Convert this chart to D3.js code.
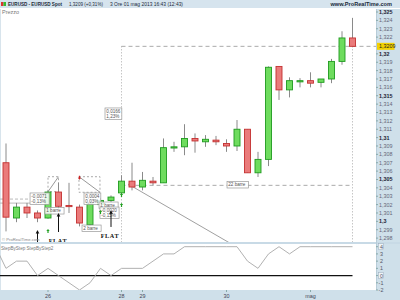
<!DOCTYPE html>
<html><head><meta charset="utf-8">
<script src="https://cdn.jsdelivr.net/npm/d3@7"></script>
<style>html,body{margin:0;padding:0;background:#fff;overflow:hidden}svg{display:block;font-family:"Liberation Sans",Arial,sans-serif}</style>
</head><body><svg id="c" width="400" height="300"></svg>
<script>
// ---- data ----
const opens  = [1.3070,1.3004,1.3017,1.3010,1.3004,1.3035,1.3019,1.3017,1.2996,1.3020,1.3025,1.3034,1.3048,1.3041,1.3048,1.3046,1.3088,1.3089,1.3099,1.3095,1.3097,1.3093,1.3090,1.3110,1.3058,1.3074,1.3185,1.3157,1.3167,1.3168,1.3166,1.3170,1.3191,1.3219];
const highs  = [1.3093,1.3022,1.3022,1.3013,1.3037,1.3046,1.3046,1.3020,1.3025,1.3028,1.3031,1.3055,1.3070,1.3059,1.3053,1.3099,1.3095,1.3116,1.3105,1.3103,1.3102,1.3098,1.3121,1.3110,1.3083,1.3185,1.3185,1.3172,1.3171,1.3178,1.3170,1.3194,1.3227,1.3243];
const lows   = [1.2988,1.2999,1.3004,1.2999,1.3003,1.3013,1.3010,1.2994,1.2994,1.3017,1.3023,1.3030,1.3037,1.3037,1.3043,1.3046,1.3083,1.3079,1.3082,1.3089,1.3091,1.3083,1.3084,1.3058,1.3053,1.3066,1.3145,1.3148,1.3160,1.3160,1.3160,1.3165,1.3187,1.3209];
const closes = [1.3005,1.3017,1.3010,1.3004,1.3035,1.3018,1.3018,1.2998,1.3021,1.3025,1.3029,1.3048,1.3041,1.3049,1.3046,1.3088,1.3089,1.3099,1.3096,1.3098,1.3095,1.3090,1.3110,1.3058,1.3074,1.3184,1.3157,1.3168,1.3168,1.3165,1.3170,1.3191,1.3219,1.3209];
// StepByStep indicator, first value belongs to the bar before the first visible one
const stepIndex = d3.range(-1, 34);
const stepValues = [4,1,2,2,0,1,0,-1,-2,-1,1,0,1,1,1,2,3,3,4,4,4,4,4,4,2,1,3,4,3,4,4,4,4,4,4];
const dayLabels = ["26","28","29","30","mag"];
const dayIndex  = [4,11,13,21,29];
const priceTicks = d3.range(1298, 1326).filter(v => v !== 1321).map(v => v/1000);
const stepTicks = [-2,-1,0,1,2,3,4];
const lastPrice = 1.3209, measureStart = 1.3043, measureFrom = 11, measureTo = 33;
const titleParts = ["EURUSD - EURUSD Spot","1,3209 (+0,31%)","3 Ore  01 mag 2013 16:43 (12:43)"];
// annotation boxes: anchor bar index / price (top-left)
const boxIdx   = [2.29, 3.71, 7.43, 7.24, 8.86, 8.95, 9.43, 21.05];
const boxPrice = [1.30339,1.30165,1.30339,1.29956,1.30231,1.30171,1.31354,1.30476];
const boxText  = [["-0,0071","-0,13%"],["1 barre"],["0,0004","0,03%"],["2 barre"],["1 barre"],["-0,0020","-0,15%"],["0,0166","1,23%"],["22 barre"]];

// ---- layout ----
const svg = d3.select("#c");
const plotR = 376, mainT = 9, mainB = 242, indT = 244, indB = 290;
const x = d3.scaleLinear().domain([0,33]).range([6,352.5]);
const y = d3.scaleLinear().domain([1.298,1.325]).range([238.1,12]);
const yi = d3.scaleLinear().domain([-2,4]).range([290,246.7]);
const fmt = v => d3.format(".4~f")(v).replace(".", ",");

svg.append("rect").attr("width",400).attr("height",300).attr("fill","#fff");
svg.append("rect").attr("x",plotR).attr("y",0).attr("width",24).attr("height",300).attr("fill","#cfe0ea");
svg.append("rect").attr("x",0).attr("y",290).attr("width",400).attr("height",10).attr("fill","#cfe0ea");
svg.append("rect").attr("x",0).attr("y",0).attr("width",400).attr("height",8).attr("fill","#d6e4ee");
svg.append("line").attr("x1",0).attr("x2",400).attr("y1",8.5).attr("y2",8.5).attr("stroke","#fff");
svg.append("rect").attr("x",0).attr("y",242).attr("width",400).attr("height",2).attr("fill","#c8dae6");
svg.append("line").attr("x1",plotR+0.5).attr("x2",plotR+0.5).attr("y1",9).attr("y2",290).attr("stroke","#b8ccd8");
svg.append("line").attr("x1",0.5).attr("x2",0.5).attr("y1",9).attr("y2",290).attr("stroke","#d8e4ec");

// title
svg.append("rect").attr("x",1).attr("y",2).attr("width",2.5).attr("height",4).attr("fill","#d33");
svg.append("rect").attr("x",3.5).attr("y",2).attr("width",2.5).attr("height",4).attr("fill","#3b3");
const titleX = [8, 69, 110], titleW = [54, 34, 73];
titleParts.forEach((t,k) => svg.append("text").attr("x",titleX[k]).attr("y",6.2)
  .attr("font-size",5.4).attr("font-weight",k===0?"bold":"normal").attr("fill","#1a2a3a")
  .attr("textLength",titleW[k]).attr("lengthAdjust","spacingAndGlyphs").text(t));
svg.append("text").attr("x",392).attr("y",6.2).attr("text-anchor","end").attr("font-size",5.6)
  .attr("font-weight","bold").attr("fill","#1a2a3a").text("www.ProRealTime.com");
svg.append("text").attr("x",2).attr("y",13.5).attr("font-size",5.5).attr("fill","#777").text("Prezzo");

// clip main
const defs = svg.append("defs");
defs.append("clipPath").attr("id","cm").append("rect").attr("x",0).attr("y",mainT).attr("width",plotR).attr("height",mainB-mainT);
defs.append("clipPath").attr("id","ci").append("rect").attr("x",0).attr("y",indT).attr("width",plotR).attr("height",indB-indT);
const g = svg.append("g").attr("clip-path","url(#cm)");

// measurement lines
g.append("line").attr("x1",x(measureFrom)).attr("x2",plotR).attr("y1",y(lastPrice)).attr("y2",y(lastPrice))
  .attr("stroke","#aaa").attr("stroke-dasharray","4,3");
g.append("line").attr("x1",x(measureFrom)).attr("x2",x(measureTo)).attr("y1",y(measureStart)).attr("y2",y(measureStart))
  .attr("stroke","#aaa").attr("stroke-dasharray","4,3");
[measureFrom, measureTo].forEach(i => g.append("line").attr("x1",x(i)).attr("x2",x(i)).attr("y1",y(lastPrice)).attr("y2",mainB)
  .attr("stroke","#aaa").attr("stroke-dasharray","1,2"));
// earlier lines on left
g.append("line").attr("x1",0).attr("x2",x(2.29)).attr("y1",y(1.30266)).attr("y2",y(1.30266)).attr("stroke","#bbb").attr("stroke-dasharray","3,2");
g.append("line").attr("x1",0).attr("x2",x(2.29)).attr("y1",y(1.30218)).attr("y2",y(1.30218)).attr("stroke","#bbb");
// dashed triangles
const tri = [[4,5,1.30354,1.30533,true],[6.95,8.95,1.30347,1.30533,false]];
tri.forEach(([i0,i1,pLo,pHi,up]) => {
  g.append("rect").attr("x",x(i0)).attr("y",y(pHi)).attr("width",x(i1)-x(i0)).attr("height",y(pLo)-y(pHi))
    .attr("fill","none").attr("stroke","#aaa").attr("stroke-dasharray","2,2");
  g.append("line").attr("x1",x(i0)).attr("x2",x(i1)).attr("y1",up?y(pLo):y(pHi)).attr("y2",up?y(pHi):y(pLo)).attr("stroke","#999");
});
// trend line
g.append("line").attr("x1",x(11.62)).attr("y1",y(1.30446)).attr("x2",x(22)).attr("y2",y(1.30446-10.38*0.000727))
  .attr("stroke","#888").attr("stroke-width",0.8);

// candles
const bars = d3.range(opens.length).map(i => ({i,o:opens[i],h:highs[i],l:lows[i],c:closes[i]}));
g.selectAll(".wick").data(bars).join("line").attr("x1",d=>x(d.i)).attr("x2",d=>x(d.i))
  .attr("y1",d=>y(d.h)).attr("y2",d=>y(d.l)).attr("stroke","#8a8a8a");
g.selectAll(".body").data(bars).join("rect")
  .attr("x",d=>x(d.i)-3).attr("width",6)
  .attr("y",d=>y(Math.max(d.o,d.c))).attr("height",d=>Math.max(1.2,Math.abs(y(d.o)-y(d.c))))
  .attr("fill",d=>d.c>=d.o?"#6edc5e":"#ea7b7b")
  .attr("stroke",d=>d.c>=d.o?"#1f9a1f":"#c43030").attr("stroke-width",0.9);

// boxes
boxText.forEach((lines,k) => {
  const bx = x(boxIdx[k]), by = y(boxPrice[k]);
  const w = d3.max(lines, s=>s.length)*2.3+3, h = lines.length*5+1.5;
  g.append("rect").attr("x",bx).attr("y",by).attr("width",w).attr("height",h)
    .attr("fill","#fff").attr("fill-opacity",0.85).attr("stroke","#999").attr("stroke-width",0.7);
  lines.forEach((s,j) => g.append("text").attr("x",bx+1.3).attr("y",by+4.8+j*5).attr("font-size",4.6).attr("fill","#555").text(s));
});

// arrows
const blackArrows = [[3,1.29897,1.29700],[5,1.30100,1.29873],[10,1.30133,1.29933]];
blackArrows.forEach(([i,tip,tail]) => {
  g.append("line").attr("x1",x(i)).attr("x2",x(i)).attr("y1",y(tip)+2).attr("y2",y(tail)).attr("stroke","#111").attr("stroke-width",1);
  g.append("path").attr("d",`M${x(i)},${y(tip)}l-1.8,3.5h3.6z`).attr("fill","#111");
});
const greenArrows = [[4,1.29909],[9,1.30136],[11,1.30339],[11,1.30220]];
greenArrows.forEach(([i,tip]) => {
  g.append("path").attr("d",`M${x(i)},${y(tip)}l-1.7,2h1.1v2h1.2v-2h1.1z`).attr("fill","#22a022");
});
g.append("path").attr("d",`M${x(7)},${y(1.30497)}l-1.7,-2h1.1v-2h1.2v2h1.1z`).attr("fill","#cc2020");

// FLAT
[[4.95,1.29736],[9.9,1.29798]].forEach(([i,p]) => g.append("text").attr("x",x(i)).attr("y",y(p))
  .attr("text-anchor","middle").attr("font-family","'Liberation Serif',serif").attr("font-weight","bold")
  .attr("font-size",6.2).attr("letter-spacing",0.6).attr("fill","#111").text("FLAT"));
g.append("text").attr("x",2).attr("y",241).attr("font-size",4.2).attr("fill","#888").text("© ProRealTime.com");

// price axis
const pa = svg.append("g");
priceTicks.forEach(v => {
  const major = Math.round(v*1000)%5===0;
  pa.append("line").attr("x1",plotR).attr("x2",plotR+2).attr("y1",y(v)).attr("y2",y(v)).attr("stroke","#8aa");
  pa.append("text").attr("x",379).attr("y",y(v)+2).attr("font-size",5.4)
    .attr("font-weight",major?"bold":"normal").attr("fill",major?"#223":"#667").text(fmt(v));
});
pa.append("rect").attr("x",377).attr("y",y(lastPrice)-3.5).attr("width",17.5).attr("height",7).attr("fill","#f3d200");
pa.append("text").attr("x",379).attr("y",y(lastPrice)+2).attr("font-size",5.4).attr("fill","#222").text(fmt(lastPrice));

// indicator panel
svg.append("text").attr("x",1).attr("y",249.5).attr("font-size",4.6).attr("fill","#777").text("StepByStep StepByStep2");
const gi = svg.append("g").attr("clip-path","url(#ci)");
gi.append("line").attr("x1",0).attr("x2",x(33)).attr("y1",yi(0)).attr("y2",yi(0)).attr("stroke","#111").attr("stroke-width",1.3);
gi.append("path").datum(stepIndex.map((i,k)=>[i,stepValues[k]]))
  .attr("d", d3.line().x(d=>x(d[0])).y(d=>yi(d[1])))
  .attr("fill","none").attr("stroke","#a8a8a8").attr("stroke-width",0.9);
const ia = svg.append("g");
stepTicks.forEach(v => {
  if (v===4 || v===0) ia.append("rect").attr("x",378.5).attr("y",yi(v)-3).attr("width",5).attr("height",6)
    .attr("fill","#eef3f6").attr("stroke","#9ab").attr("stroke-width",0.5);
  ia.append("line").attr("x1",plotR).attr("x2",plotR+2).attr("y1",yi(v)).attr("y2",yi(v)).attr("stroke","#8aa");
  ia.append("text").attr("x",v<0?378.6:380).attr("y",yi(v)+2).attr("font-size",5.4).attr("fill","#556").text(v);
});

// x axis labels
dayLabels.forEach((t,k) => {
  svg.append("line").attr("x1",x(dayIndex[k])).attr("x2",x(dayIndex[k])).attr("y1",290).attr("y2",292).attr("stroke","#8aa");
  svg.append("text").attr("x",x(dayIndex[k])).attr("y",297.5).attr("text-anchor","middle").attr("font-size",5.4).attr("fill","#445").text(t);
});
</script></body></html>
